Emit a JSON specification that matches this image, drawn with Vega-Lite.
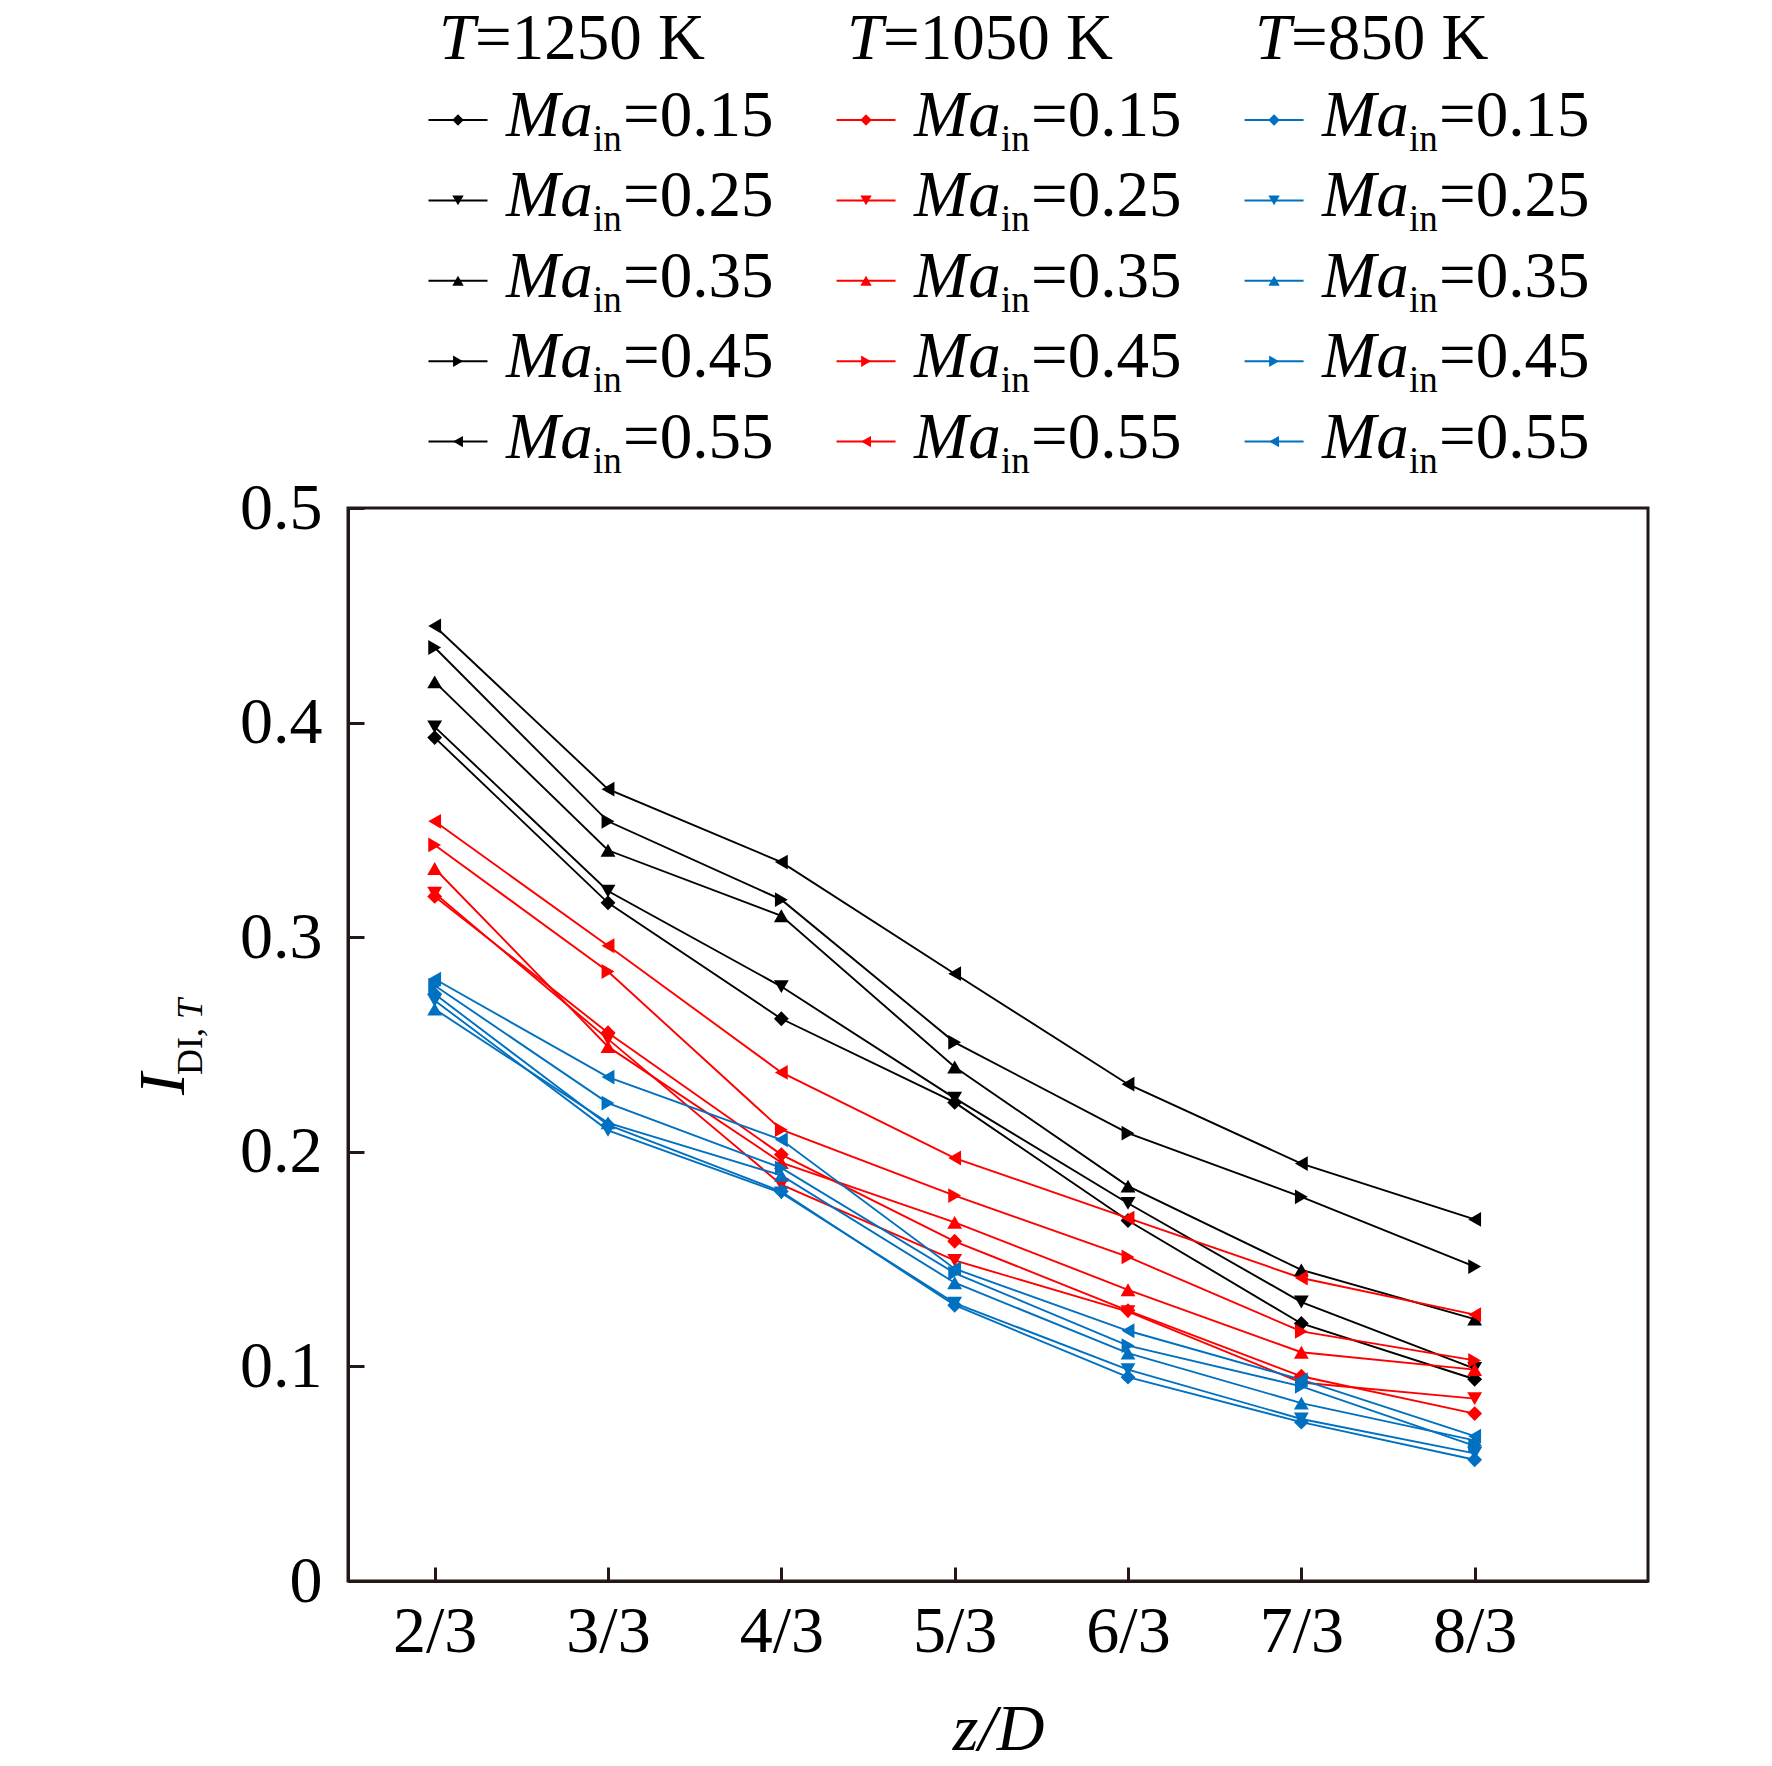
{
  "$schema": "https://vega.github.io/schema/vega-lite/v6.json",
  "background": "white",
  "padding": {"left": 129, "top": 6, "right": 126, "bottom": 5},
  "config": {
    "legend": {"disable": true},
    "view": {"stroke": null},
    "font": "Liberation Serif"
  },
  "datasets": {
    "series": [
      {"T":1250,"Ma":"0.15","z":2,"v":0.393},{"T":1250,"Ma":"0.15","z":3,"v":0.316},{"T":1250,"Ma":"0.15","z":4,"v":0.262},{"T":1250,"Ma":"0.15","z":5,"v":0.223},{"T":1250,"Ma":"0.15","z":6,"v":0.168},{"T":1250,"Ma":"0.15","z":7,"v":0.120},{"T":1250,"Ma":"0.15","z":8,"v":0.094},
      {"T":1250,"Ma":"0.25","z":2,"v":0.398},{"T":1250,"Ma":"0.25","z":3,"v":0.3215},{"T":1250,"Ma":"0.25","z":4,"v":0.277},{"T":1250,"Ma":"0.25","z":5,"v":0.225},{"T":1250,"Ma":"0.25","z":6,"v":0.176},{"T":1250,"Ma":"0.25","z":7,"v":0.130},{"T":1250,"Ma":"0.25","z":8,"v":0.099},
      {"T":1250,"Ma":"0.35","z":2,"v":0.419},{"T":1250,"Ma":"0.35","z":3,"v":0.3405},{"T":1250,"Ma":"0.35","z":4,"v":0.310},{"T":1250,"Ma":"0.35","z":5,"v":0.2395},{"T":1250,"Ma":"0.35","z":6,"v":0.184},{"T":1250,"Ma":"0.35","z":7,"v":0.145},{"T":1250,"Ma":"0.35","z":8,"v":0.122},
      {"T":1250,"Ma":"0.45","z":2,"v":0.435},{"T":1250,"Ma":"0.45","z":3,"v":0.354},{"T":1250,"Ma":"0.45","z":4,"v":0.3175},{"T":1250,"Ma":"0.45","z":5,"v":0.251},{"T":1250,"Ma":"0.45","z":6,"v":0.2087},{"T":1250,"Ma":"0.45","z":7,"v":0.179},{"T":1250,"Ma":"0.45","z":8,"v":0.1465},
      {"T":1250,"Ma":"0.55","z":2,"v":0.445},{"T":1250,"Ma":"0.55","z":3,"v":0.369},{"T":1250,"Ma":"0.55","z":4,"v":0.335},{"T":1250,"Ma":"0.55","z":5,"v":0.283},{"T":1250,"Ma":"0.55","z":6,"v":0.2315},{"T":1250,"Ma":"0.55","z":7,"v":0.1945},{"T":1250,"Ma":"0.55","z":8,"v":0.1685},
      {"T":1050,"Ma":"0.15","z":2,"v":0.319},{"T":1050,"Ma":"0.15","z":3,"v":0.2555},{"T":1050,"Ma":"0.15","z":4,"v":0.1987},{"T":1050,"Ma":"0.15","z":5,"v":0.1583},{"T":1050,"Ma":"0.15","z":6,"v":0.126},{"T":1050,"Ma":"0.15","z":7,"v":0.0954},{"T":1050,"Ma":"0.15","z":8,"v":0.078},
      {"T":1050,"Ma":"0.25","z":2,"v":0.3205},{"T":1050,"Ma":"0.25","z":3,"v":0.2525},{"T":1050,"Ma":"0.25","z":4,"v":0.1847},{"T":1050,"Ma":"0.25","z":5,"v":0.1494},{"T":1050,"Ma":"0.25","z":6,"v":0.1255},{"T":1050,"Ma":"0.25","z":7,"v":0.0925},{"T":1050,"Ma":"0.25","z":8,"v":0.085},
      {"T":1050,"Ma":"0.35","z":2,"v":0.332},{"T":1050,"Ma":"0.35","z":3,"v":0.249},{"T":1050,"Ma":"0.35","z":4,"v":0.195},{"T":1050,"Ma":"0.35","z":5,"v":0.1671},{"T":1050,"Ma":"0.35","z":6,"v":0.1357},{"T":1050,"Ma":"0.35","z":7,"v":0.1066},{"T":1050,"Ma":"0.35","z":8,"v":0.0985},
      {"T":1050,"Ma":"0.45","z":2,"v":0.343},{"T":1050,"Ma":"0.45","z":3,"v":0.284},{"T":1050,"Ma":"0.45","z":4,"v":0.2103},{"T":1050,"Ma":"0.45","z":5,"v":0.1796},{"T":1050,"Ma":"0.45","z":6,"v":0.151},{"T":1050,"Ma":"0.45","z":7,"v":0.1163},{"T":1050,"Ma":"0.45","z":8,"v":0.1028},
      {"T":1050,"Ma":"0.55","z":2,"v":0.354},{"T":1050,"Ma":"0.55","z":3,"v":0.296},{"T":1050,"Ma":"0.55","z":4,"v":0.237},{"T":1050,"Ma":"0.55","z":5,"v":0.1971},{"T":1050,"Ma":"0.55","z":6,"v":0.1691},{"T":1050,"Ma":"0.55","z":7,"v":0.1412},{"T":1050,"Ma":"0.55","z":8,"v":0.1241},
      {"T":850,"Ma":"0.15","z":2,"v":0.2735},{"T":850,"Ma":"0.15","z":3,"v":0.2125},{"T":850,"Ma":"0.15","z":4,"v":0.1815},{"T":850,"Ma":"0.15","z":5,"v":0.1285},{"T":850,"Ma":"0.15","z":6,"v":0.095},{"T":850,"Ma":"0.15","z":7,"v":0.074},{"T":850,"Ma":"0.15","z":8,"v":0.0565},
      {"T":850,"Ma":"0.25","z":2,"v":0.2705},{"T":850,"Ma":"0.25","z":3,"v":0.210},{"T":850,"Ma":"0.25","z":4,"v":0.1808},{"T":850,"Ma":"0.25","z":5,"v":0.1295},{"T":850,"Ma":"0.25","z":6,"v":0.0985},{"T":850,"Ma":"0.25","z":7,"v":0.0755},{"T":850,"Ma":"0.25","z":8,"v":0.0595},
      {"T":850,"Ma":"0.35","z":2,"v":0.2665},{"T":850,"Ma":"0.35","z":3,"v":0.2135},{"T":850,"Ma":"0.35","z":4,"v":0.189},{"T":850,"Ma":"0.35","z":5,"v":0.139},{"T":850,"Ma":"0.35","z":6,"v":0.1062},{"T":850,"Ma":"0.35","z":7,"v":0.0829},{"T":850,"Ma":"0.35","z":8,"v":0.0655},
      {"T":850,"Ma":"0.45","z":2,"v":0.2775},{"T":850,"Ma":"0.45","z":3,"v":0.2227},{"T":850,"Ma":"0.45","z":4,"v":0.1925},{"T":850,"Ma":"0.45","z":5,"v":0.1435},{"T":850,"Ma":"0.45","z":6,"v":0.1097},{"T":850,"Ma":"0.45","z":7,"v":0.0907},{"T":850,"Ma":"0.45","z":8,"v":0.063},
      {"T":850,"Ma":"0.55","z":2,"v":0.2805},{"T":850,"Ma":"0.55","z":3,"v":0.2348},{"T":850,"Ma":"0.55","z":4,"v":0.2056},{"T":850,"Ma":"0.55","z":5,"v":0.1455},{"T":850,"Ma":"0.55","z":6,"v":0.1166},{"T":850,"Ma":"0.55","z":7,"v":0.0938},{"T":850,"Ma":"0.55","z":8,"v":0.0675}
    ]
  },
  "spacing": 25,
  "bounds": "flush",
  "vconcat": [
    {
      "width": 1300,
      "height": 474,
      "view": {"stroke": null},
      "data": {"name": "series"},
      "transform": [{"filter": "datum.z == 2"}],
      "encoding": {
        "x": {"field": "T", "type": "nominal", "scale": {"type": "point", "domain": [1250, 1050, 850], "padding": 0.593, "align": 0.2273}, "axis": null},
        "y": {"field": "Ma", "type": "ordinal", "scale": {"type": "point", "domain": ["title", "0.15", "0.25", "0.35", "0.45", "0.55"], "padding": 0.448, "align": 0.425}, "axis": null}
      },
      "layer": [
        {
          "mark": {"type": "point", "shape": "M-1,0L1,0", "size": 3481, "filled": false, "strokeWidth": 2, "opacity": 1},
          "encoding": {"color": {"field": "T", "type": "nominal", "scale": {"domain": [1250, 1050, 850], "range": ["#000000", "#ff0000", "#0070c0"]}, "legend": null}}
        },
        {
          "mark": {"type": "point", "filled": true, "size": 130, "opacity": 1, "strokeWidth": 0},
          "encoding": {
            "color": {"field": "T", "type": "nominal", "scale": {"domain": [1250, 1050, 850], "range": ["#000000", "#ff0000", "#0070c0"]}, "legend": null},
            "shape": {"field": "Ma", "type": "nominal", "scale": {"domain": ["0.15", "0.25", "0.35", "0.45", "0.55"], "range": ["diamond", "triangle-down", "triangle-up", "triangle-right", "triangle-left"]}, "legend": null}
          }
        },
        {
          "mark": {"type": "text", "text": "Ma", "font": "Liberation Serif", "fontStyle": "italic", "fontSize": 65, "align": "left", "baseline": "alphabetic", "dx": 48, "dy": 16, "color": "black"}
        },
        {
          "mark": {"type": "text", "text": "in", "font": "Liberation Serif", "fontSize": 37, "align": "left", "baseline": "alphabetic", "dx": 135, "dy": 31, "color": "black"}
        },
        {
          "mark": {"type": "text", "text": {"expr": "'=' + datum.Ma"}, "font": "Liberation Serif", "fontSize": 65, "align": "left", "baseline": "alphabetic", "dx": 165, "dy": 16, "color": "black"}
        },
        {
          "transform": [{"aggregate": [{"op": "count", "as": "n"}], "groupby": ["T"]}],
          "mark": {"type": "text", "text": "T", "font": "Liberation Serif", "fontStyle": "italic", "fontSize": 65, "align": "left", "baseline": "alphabetic", "dx": -19, "dy": 19, "color": "black"},
          "encoding": {"y": {"datum": "title", "type": "ordinal"}}
        },
        {
          "transform": [{"aggregate": [{"op": "count", "as": "n"}], "groupby": ["T"]}],
          "mark": {"type": "text", "text": {"expr": "'=' + datum.T + ' K'"}, "font": "Liberation Serif", "fontSize": 65, "align": "left", "baseline": "alphabetic", "dx": 17, "dy": 19, "color": "black"},
          "encoding": {"y": {"datum": "title", "type": "ordinal"}}
        }
      ]
    },
    {
      "width": 1300,
      "height": 1073,
      "view": {"stroke": "#231815", "strokeWidth": 3},
      "layer": [
        {
          "data": {"name": "series"},
          "mark": {"type": "line", "strokeWidth": 1.9},
          "encoding": {
            "x": {
              "field": "z", "type": "quantitative",
              "scale": {"domain": [1.5, 9], "nice": false, "zero": false},
              "axis": {
                "values": [2, 3, 4, 5, 6, 7, 8],
                "labelExpr": "datum.value + '/3'",
                "title": "z/D",
                "titleFont": "Liberation Serif", "titleFontStyle": "italic", "titleFontSize": 66, "titleFontWeight": "normal", "titleColor": "black",
                "labelFont": "Liberation Serif", "labelFontSize": 66, "labelColor": "black",
                "tickSize": -14, "tickWidth": 3, "tickColor": "#231815",
                "domainColor": "#231815", "domainWidth": 3,
                "labelPadding": 32, "titlePadding": 33,
                "grid": false, "labelFlush": false, "labelOverlap": false
              }
            },
            "y": {
              "field": "v", "type": "quantitative",
              "scale": {"domain": [0, 0.5], "nice": false},
              "axis": {
                "values": [0, 0.1, 0.2, 0.3, 0.4, 0.5],
                "format": ".1~f",
                "title": null,
                "labelFont": "Liberation Serif", "labelFontSize": 66, "labelColor": "black",
                "tickSize": -16, "tickWidth": 3, "tickColor": "#231815",
                "domainColor": "#231815", "domainWidth": 3,
                "labelPadding": 42,
                "grid": false, "labelFlush": false, "labelOverlap": false
              }
            },
            "color": {"field": "T", "type": "nominal", "scale": {"domain": [1250, 1050, 850], "range": ["#000000", "#ff0000", "#0070c0"]}, "legend": null},
            "detail": {"field": "Ma", "type": "nominal"}
          }
        },
        {
          "data": {"name": "series"},
          "mark": {"type": "point", "filled": true, "size": 220, "opacity": 1, "strokeWidth": 0},
          "encoding": {
            "x": {"field": "z", "type": "quantitative"},
            "y": {"field": "v", "type": "quantitative"},
            "color": {"field": "T", "type": "nominal", "scale": {"domain": [1250, 1050, 850], "range": ["#000000", "#ff0000", "#0070c0"]}, "legend": null},
            "shape": {"field": "Ma", "type": "nominal", "scale": {"domain": ["0.15", "0.25", "0.35", "0.45", "0.55"], "range": ["diamond", "triangle-down", "triangle-up", "triangle-right", "triangle-left"]}, "legend": null}
          }
        },
        {
          "data": {"values": [{"label": "I"}]},
          "mark": {"type": "text", "angle": 270, "font": "Liberation Serif", "fontStyle": "italic", "fontSize": 66, "align": "center", "baseline": "alphabetic", "color": "black"},
          "encoding": {
            "x": {"datum": 0.554, "type": "quantitative"},
            "y": {"datum": 0.2316, "type": "quantitative"},
            "text": {"field": "label"}
          }
        },
        {
          "data": {"values": [{"label": "DI, "}]},
          "mark": {"type": "text", "angle": 270, "font": "Liberation Serif", "fontSize": 36, "align": "left", "baseline": "alphabetic", "color": "black"},
          "encoding": {
            "x": {"datum": 0.658, "type": "quantitative"},
            "y": {"datum": 0.2358, "type": "quantitative"},
            "text": {"field": "label"}
          }
        },
        {
          "data": {"values": [{"label": "T"}]},
          "mark": {"type": "text", "angle": 270, "font": "Liberation Serif", "fontStyle": "italic", "fontSize": 36, "align": "left", "baseline": "alphabetic", "color": "black"},
          "encoding": {
            "x": {"datum": 0.658, "type": "quantitative"},
            "y": {"datum": 0.2619, "type": "quantitative"},
            "text": {"field": "label"}
          }
        }
      ]
    }
  ]
}
